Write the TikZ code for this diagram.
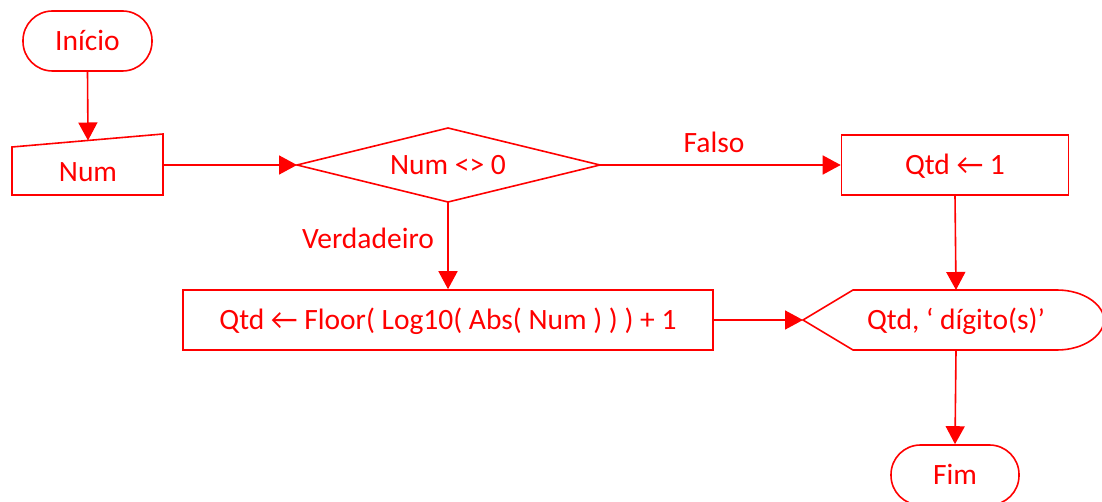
\documentclass[tikz,border=0pt]{standalone}
\usepackage{fontspec}
\setmainfont{Carlito}
\usetikzlibrary{arrows.meta}
\definecolor{fc}{RGB}{255,0,0}
\begin{document}
\begin{tikzpicture}[x=1pt,y=-1pt,
  every node/.style={font=\fontsize{29.5}{34}\selectfont, text=fc, text height=19pt, text depth=0pt},
  outline/.style={draw=fc, line width=1.6pt, line join=miter},
  flow/.style={draw=fc, line width=1.6pt, -{Triangle[length=18pt,width=19pt]}},
  terminal/.style={outline, rectangle, rounded corners=29.5pt, minimum width=129pt, minimum height=60pt, inner sep=0pt},
  box/.style={outline, rectangle, minimum height=60pt, inner sep=0pt}]
\useasboundingbox (0,0) rectangle (1102,502);

% start terminal
\node[terminal] (inicio) at (87.5,41) {Início};

% manual input
\draw[outline] (12,147) -- (163,134) -- (163,195) -- (12,195) -- cycle;
\node (num) at (88,172) {Num};
\coordinate (numtop) at (88,140.5);
\coordinate (numright) at (163,165);

% decision
\coordinate (dl) at (297,165);
\coordinate (dt) at (448,128);
\coordinate (dr) at (600,165);
\coordinate (db) at (448,202);
\draw[outline] (dl) -- (dt) -- (dr) -- (db) -- cycle;
\node (cond) at (448,165) {Num <> 0};

% process boxes
\node[box, minimum width=227pt] (qtd1) at (955,165) {Qtd ← 1};
\node[box, minimum width=530pt] (calc) at (448,320) {Qtd ← Floor( Log10( Abs( Num ) ) ) + 1};

% display
\coordinate (dispL) at (803,320);
\coordinate (dispT) at (956,290);
\coordinate (dispB) at (956,350);
\draw[outline] (dispL) -- (853,290) -- (1057,290)
  .. controls (1084,290) and (1104,305) .. (1104,320)
  .. controls (1104,335) and (1084,350) .. (1057,350)
  -- (853,350) -- cycle;
\node (out) at (956,320) {Qtd, ‘ dígito(s)’};

% end terminal
\node[terminal, minimum width=128pt] (fim) at (955,475) {Fim};

% branch labels
\node (falso) at (714,143) {Falso};
\node (verd) at (368,239) {Verdadeiro};

% connectors
\draw[flow] (inicio.south) -- (numtop);
\draw[flow] (numright) -- (dl);
\draw[flow] (dr) -- (qtd1.west);
\draw[flow] (db) -- (calc.north);
\draw[flow] (qtd1.south) -- (dispT);
\draw[flow] (calc.east) -- (dispL);
\draw[flow] (dispB) -- (fim.north);
\end{tikzpicture}
\end{document}
